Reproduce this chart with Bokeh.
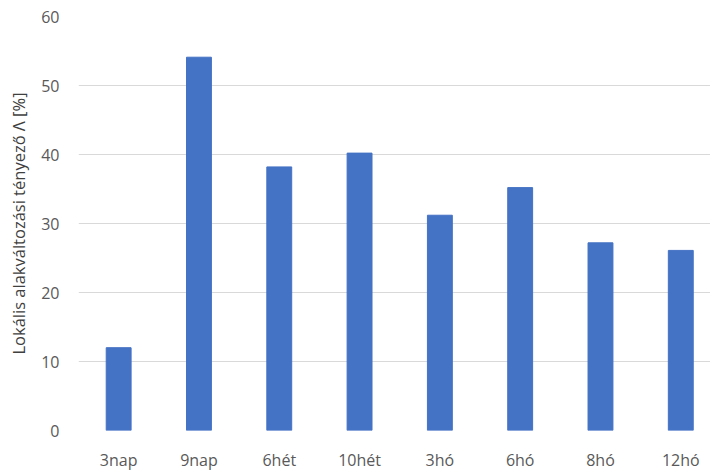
from bokeh.plotting import figure
from bokeh.models import Range1d, FixedTicker, ColumnDataSource
from bokeh.embed import file_html
from bokeh.resources import INLINE

categories = ["3nap", "9nap", "6hét", "10hét", "3hó", "6hó", "8hó", "12hó"]
values = [12.0, 54.1, 38.2, 40.2, 31.2, 35.2, 27.2, 26.1]
y_ticks = [0, 10, 20, 30, 40, 50, 60]
y_title = "Lokális alakváltozási tényező Λ [%]"

xs = list(range(len(categories)))
src = ColumnDataSource(dict(x=xs, top=values, cat=categories))

p = figure(width=710, height=473, output_backend="svg", toolbar_location=None,
           x_range=Range1d(-0.5, 7.37), y_range=Range1d(0, 60))
p.min_border_left = 78
p.min_border_right = 0
p.min_border_top = 16
p.min_border_bottom = 39
p.outline_line_color = None
p.background_fill_color = "white"

p.vbar(x="x", top="top", bottom=0, width=0.31, source=src,
       fill_color="#4472C4", line_color="#4472C4")

font = "Open Sans"
p.xaxis.ticker = FixedTicker(ticks=xs)
p.xaxis.major_label_overrides = {i: c for i, c in enumerate(categories)}
p.yaxis.ticker = FixedTicker(ticks=y_ticks)
for ax in (p.xaxis, p.yaxis):
    ax.axis_line_color = None
    ax.major_tick_line_color = None
    ax.minor_tick_line_color = None
    ax.major_label_text_font = font
    ax.major_label_text_font_size = "16px"
    ax.major_label_text_color = "#595959"
p.xaxis.major_label_standoff = 12
p.yaxis.major_label_standoff = 13
p.yaxis.axis_label = y_title
p.yaxis.axis_label_text_font = font
p.yaxis.axis_label_text_font_size = "16.5px"
p.yaxis.axis_label_text_font_style = "normal"
p.yaxis.axis_label_text_color = "#404040"
p.yaxis.axis_label_standoff = 8

p.xgrid.grid_line_color = None
p.ygrid.grid_line_color = "#d9d9d9"
p.ygrid.grid_line_width = 1
p.ygrid.ticker = FixedTicker(ticks=y_ticks)

open("out.html", "w").write(file_html(p, INLINE))
